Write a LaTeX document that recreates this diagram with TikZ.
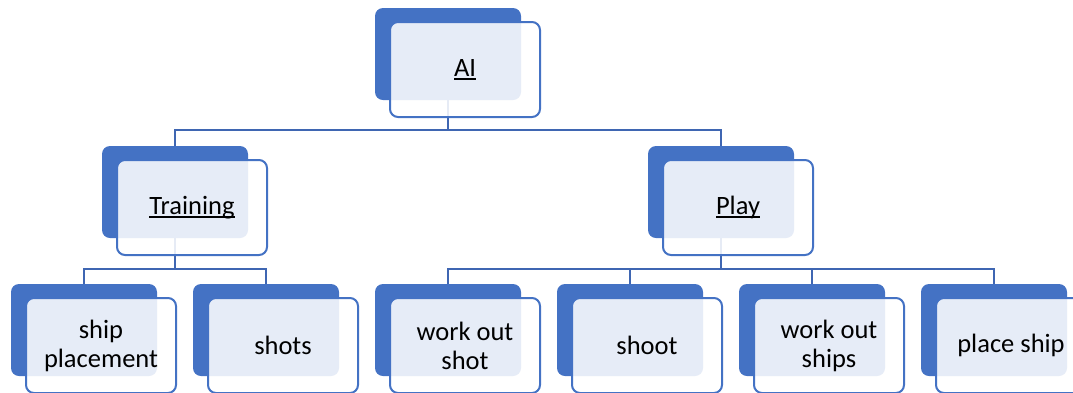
\documentclass[tikz,border=0pt]{standalone}
\usepackage{fontspec}
\setmainfont{Carlito}
\usetikzlibrary{calc}
\definecolor{accent}{HTML}{4472C4}
\definecolor{wire}{HTML}{3F66B2}
\newcommand\ulword[1]{\setbox0=\hbox{#1}\rlap{\rule[-3.4pt]{\wd0}{1.5pt}}\box0}
\begin{document}
\begin{tikzpicture}[x=1pt,y=-1pt,
  backbox/.style={rectangle, rounded corners=8pt, fill=accent, draw=none,
    minimum width=146pt, minimum height=92pt, inner sep=0pt, outer sep=0pt, anchor=north west},
  frontbox/.style={rectangle, rounded corners=8pt, draw=accent, line width=2pt,
    fill=white, fill opacity=0.87, text opacity=1, text=black,
    minimum width=150pt, minimum height=95pt, inner sep=0pt, outer sep=0pt,
    anchor=north west, align=center,
    font=\fontsize{26.5}{29}\selectfont},
  wireline/.style={draw=wire, line width=2.2pt}]
\useasboundingbox (0,0) rectangle (1073,392);

% solid back plates
\node[backbox] (ai-b)    at (375,8)   {};
\node[backbox] (train-b) at (102,146) {};
\node[backbox] (play-b)  at (648,146) {};
\node[backbox] (sp-b)    at (11,284)  {};
\node[backbox] (shots-b) at (193,284) {};
\node[backbox] (wos-b)   at (375,284) {};
\node[backbox] (shoot-b) at (557,284) {};
\node[backbox] (wosh-b)  at (739,284) {};
\node[backbox] (place-b) at (921,284) {};

% bus lines
\coordinate (bus1) at (0,130);
\coordinate (bus2) at (0,269);
\draw[wireline] (ai-b.south) -- (ai-b.south |- bus1);
\draw[wireline] (train-b.north) |- (play-b.north |- bus1) -- (play-b.north);
\draw[wireline] (train-b.south) -- (train-b.south |- bus2);
\draw[wireline] (sp-b.north) |- (shots-b.north |- bus2) -- (shots-b.north);
\draw[wireline] (play-b.south) -- (play-b.south |- bus2);
\draw[wireline] (wos-b.north) |- (place-b.north |- bus2) -- (place-b.north);
\draw[wireline] (shoot-b.north) -- (shoot-b.north |- bus2);
\draw[wireline] (wosh-b.north) -- (wosh-b.north |- bus2);

% translucent front cards with labels
\node[frontbox] (ai)    at ($(ai-b.north west)+(15,14)$)    {\ulword{AI}};
\node[frontbox] (train) at ($(train-b.north west)+(15,14)$) {\ulword{Training}};
\node[frontbox] (play)  at ($(play-b.north west)+(15,14)$)  {\ulword{Play}};
\node[frontbox] (sp)    at ($(sp-b.north west)+(15,14)$)    {ship\\placement};
\node[frontbox] (shots) at ($(shots-b.north west)+(15,14)$) {shots};
\node[frontbox] (wos)   at ($(wos-b.north west)+(15,14)$)   {work out\\shot};
\node[frontbox] (shoot) at ($(shoot-b.north west)+(15,14)$) {shoot};
\node[frontbox] (wosh)  at ($(wosh-b.north west)+(15,14)$)  {work out\\ships};
\node[frontbox] (place) at ($(place-b.north west)+(15,14)$) {place ship};
\end{tikzpicture}
\end{document}
